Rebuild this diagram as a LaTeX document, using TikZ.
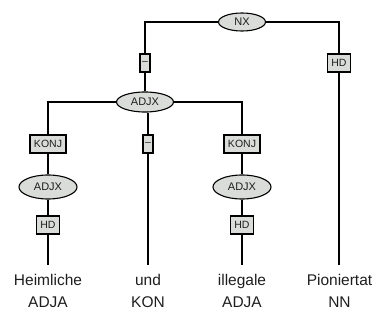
\documentclass[tikz,border=0pt]{standalone}
\usepackage{fontspec}
\setmainfont{Liberation Sans}
\usetikzlibrary{shapes.geometric}
\definecolor{nodefill}{RGB}{217,220,216}
\definecolor{txt}{RGB}{30,30,30}
\begin{document}
\begin{tikzpicture}[x=1pt,y=-1pt,
  edge/.style={line width=1.2pt, black},
  cat/.style={ellipse, draw=black, line width=1.1pt, fill=nodefill, inner sep=0pt, font=\fontsize{11}{13}\selectfont, text=txt},
  fun/.style={rectangle, draw=black, line width=1.1pt, fill=nodefill, inner xsep=4pt, inner ysep=0pt, minimum height=18pt, font=\fontsize{10.5}{12}\selectfont, text=txt},
  dashbox/.style={fun, inner xsep=1.5pt, minimum width=10pt},
  word/.style={anchor=base, inner sep=0pt, font=\fontsize{15.5}{18}\selectfont, text=txt}]
\useasboundingbox (0,0) rectangle (376,324);
\node[cat, minimum width=47pt, minimum height=18pt] (nx) at (242,22) {NX};
\node[dashbox] (d1) at (145,63) {--};
\node[fun] (hd0) at (339,63) {HD};
\node[cat, minimum width=57pt, minimum height=20pt] (adjx) at (145,102) {ADJX};
\node[fun] (k1) at (48,144) {KONJ};
\node[dashbox] (d2) at (148,144) {--};
\node[fun] (k2) at (242,144) {KONJ};
\node[cat, minimum width=58pt, minimum height=24pt] (a1) at (48,187) {ADJX};
\node[cat, minimum width=58pt, minimum height=24pt] (a2) at (242,187) {ADJX};
\node[fun] (h1) at (48,225) {HD};
\node[fun] (h2) at (242,225) {HD};
\coordinate (e1) at (48,265);
\coordinate (e2) at (148,265);
\coordinate (e3) at (242,265);
\coordinate (e4) at (339,265);
\node[word] (w1) at (48,285) {Heimliche};
\node[word] (w2) at (148,285) {und};
\node[word] (w3) at (242,285) {illegale};
\node[word] (w4) at (339.5,285) {Pioniertat};
\node[word] (t1) at (48,307) {ADJA};
\node[word] (t2) at (148,307) {KON};
\node[word] (t3) at (242,307) {ADJA};
\node[word] (t4) at (339.5,307) {NN};
\draw[edge] (nx.west) -| (d1.north);
\draw[edge] (d1) -- (adjx);
\draw[edge] (nx.east) -| (hd0.north);
\draw[edge] (hd0) -- (e4);
\draw[edge] (adjx.west) -| (k1.north);
\draw[edge] (k1) -- (a1);
\draw[edge] (a1) -- (h1);
\draw[edge] (h1) -- (e1);
\draw[edge] (adjx.east) -| (k2.north);
\draw[edge] (k2) -- (a2);
\draw[edge] (a2) -- (h2);
\draw[edge] (h2) -- (e3);
\draw[edge] (d2.north |- adjx.south) -- (d2.north);
\draw[edge] (d2) -- (e2);
\end{tikzpicture}
\end{document}
